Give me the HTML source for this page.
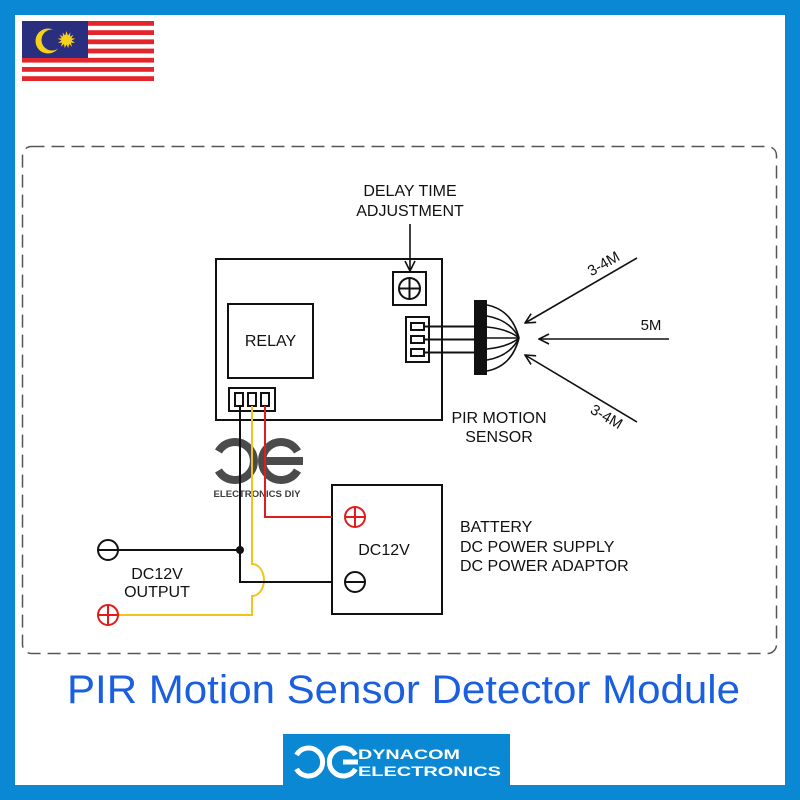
<!DOCTYPE html>
<html><head><meta charset="utf-8"><style>
html,body{margin:0;padding:0;background:#fff;}
svg{display:block;}
text{font-family:"Liberation Sans",Arial,sans-serif;}
</style></head><body>
<svg width="800" height="800" viewBox="0 0 800 800" xmlns="http://www.w3.org/2000/svg">
<defs>
<marker id="ah" viewBox="0 0 12 12" refX="11" refY="6" markerWidth="12" markerHeight="12" markerUnits="userSpaceOnUse" orient="auto">
<path d="M1,1 L11,6 L1,11" fill="none" stroke="#111" stroke-width="1.6"/>
</marker>
</defs>
<rect x="0" y="0" width="800" height="800" fill="#0a88d4"/>
<rect x="15" y="15" width="770" height="770" fill="#fff"/>

<!-- Flag -->
<g>
<rect x="22" y="21" width="132" height="60" fill="#fff"/>
<rect x="22" y="21" width="132" height="4.8" fill="#e3262b"/>
<rect x="22" y="30.2" width="132" height="4.8" fill="#e3262b"/>
<rect x="22" y="39.4" width="132" height="4.8" fill="#e3262b"/>
<rect x="22" y="48.6" width="132" height="4.8" fill="#e3262b"/>
<rect x="22" y="57.8" width="132" height="4.8" fill="#e3262b"/>
<rect x="22" y="67" width="132" height="4.8" fill="#e3262b"/>
<rect x="22" y="76.2" width="132" height="4.8" fill="#e3262b"/>
<rect x="22" y="21" width="66" height="37" fill="#2a2e7e"/>
<circle cx="48" cy="41" r="12.5" fill="#f7d117"/>
<circle cx="52" cy="40" r="10.5" fill="#2a2e7e"/>
<polygon fill="#f7d117" points="66.5,31 67.9,35.6 70.4,32.4 69.9,36.6 73.5,34.8 71.3,38.2 75.4,38.6 71.6,40.4 75.0,43.0 70.9,42.6 72.1,46.7 69.1,43.9 68.2,48.1 66.5,44.3 64.8,48.1 63.9,43.9 60.9,46.7 62.1,42.6 58.0,43.0 61.4,40.4 57.6,38.6 61.7,38.2 59.5,34.8 63.1,36.6 62.6,32.4 65.1,35.6"/>
<circle cx="66.5" cy="40" r="5" fill="#f7d117"/>
</g>

<!-- Dashed frame -->
<rect x="22.5" y="146.5" width="754" height="507" rx="9" ry="9" fill="none" stroke="#555" stroke-width="1.5" stroke-dasharray="13 7"/>

<!-- Watermark logo -->
<g fill="none" stroke="#3c3c3c" stroke-width="8" opacity="0.92">
<path d="M218.5,451.5 A19,19 0 1 1 218.5,470.5"/>
<path d="M297.5,451.5 A19,19 0 1 0 297.5,470.5"/>
<line x1="264" y1="461" x2="303" y2="461"/>
</g>
<text x="257" y="497" font-size="9.5" font-weight="bold" fill="#3c3c3c" text-anchor="middle" textLength="87" lengthAdjust="spacingAndGlyphs">ELECTRONICS DIY</text>

<!-- Main board -->
<g fill="none" stroke="#111" stroke-width="2">
<rect x="216" y="259" width="226" height="161"/>
<rect x="228" y="304" width="85" height="74"/>
<rect x="393" y="272" width="33" height="33"/>
<circle cx="409.5" cy="288.5" r="10.5"/>
<line x1="399" y1="288.5" x2="420" y2="288.5"/>
<line x1="409.5" y1="278" x2="409.5" y2="299"/>
<rect x="406" y="317" width="23" height="45"/>
<rect x="411" y="323" width="13" height="7"/>
<rect x="411" y="336" width="13" height="7"/>
<rect x="411" y="349" width="13" height="7"/>
<rect x="229" y="388" width="46" height="23"/>
<rect x="235" y="393" width="8" height="13"/>
<rect x="248" y="393" width="8" height="13"/>
<rect x="261" y="393" width="8" height="13"/>
</g>
<text x="270.5" y="346" font-size="16" fill="#111" text-anchor="middle">RELAY</text>

<!-- sensor lines -->
<g stroke="#111" stroke-width="2" fill="none">
<line x1="424" y1="326.5" x2="475" y2="326.5"/>
<line x1="424" y1="339.5" x2="475" y2="339.5"/>
<line x1="424" y1="352.5" x2="475" y2="352.5"/>
</g>
<rect x="474" y="300" width="13" height="75" fill="#111"/>
<g stroke="#111" stroke-width="1.6" fill="none">
<path d="M487,305 Q512,310 519,338"/>
<path d="M487,316 Q510,320 519,338"/>
<path d="M487,327 Q508,329 519,338"/>
<path d="M487,338 L519,338"/>
<path d="M487,349 Q508,347 519,338"/>
<path d="M487,360 Q510,356 519,338"/>
<path d="M487,371 Q512,366 519,338"/>
</g>

<!-- arrows -->
<g stroke="#111" stroke-width="1.6" fill="none" marker-end="url(#ah)">
<line x1="410" y1="224" x2="410" y2="271"/>
<line x1="637" y1="258" x2="525" y2="323"/>
<line x1="669" y1="339" x2="539" y2="339"/>
<line x1="637" y1="422" x2="525" y2="355"/>
</g>

<!-- labels -->
<g font-size="16" fill="#111" text-anchor="middle">
<text x="410" y="196">DELAY TIME</text>
<text x="410" y="216">ADJUSTMENT</text>
<text x="499" y="423">PIR MOTION</text>
<text x="499" y="442">SENSOR</text>
<text x="384" y="555">DC12V</text>
<text x="157" y="579">DC12V</text>
<text x="157" y="597">OUTPUT</text>
</g>
<text x="651" y="330" font-size="15" fill="#111" text-anchor="middle">5M</text>
<text x="0" y="0" font-size="15" fill="#111" text-anchor="middle" transform="translate(606,268) rotate(-30)">3-4M</text>
<text x="0" y="0" font-size="15" fill="#111" text-anchor="middle" transform="translate(604,421) rotate(30)">3-4M</text>
<g font-size="16" fill="#111">
<text x="460" y="532">BATTERY</text>
<text x="460" y="552">DC POWER SUPPLY</text>
<text x="460" y="571">DC POWER ADAPTOR</text>
</g>

<!-- battery box -->
<rect x="332" y="485" width="110" height="129" fill="none" stroke="#111" stroke-width="2"/>

<!-- wires -->
<g fill="none" stroke-width="2">
<path d="M265,406 V517 H332" stroke="#e21b1b"/>
<path d="M252,406 V564 A12,16 0 0 1 252,596 V615 H118" stroke="#f2c318"/>
<path d="M240,406 V582 H332" stroke="#111"/>
<path d="M118,550 H240" stroke="#111"/>
</g>
<circle cx="240" cy="550" r="4" fill="#111"/>

<!-- terminals -->
<g fill="none" stroke-width="2">
<circle cx="108" cy="550" r="10" stroke="#111"/>
<line x1="98" y1="550" x2="118" y2="550" stroke="#111"/>
<circle cx="108" cy="615" r="10" stroke="#e21b1b"/>
<line x1="98" y1="615" x2="118" y2="615" stroke="#e21b1b"/>
<line x1="108" y1="605" x2="108" y2="625" stroke="#e21b1b"/>
<circle cx="355" cy="517" r="10" stroke="#e21b1b"/>
<line x1="345" y1="517" x2="365" y2="517" stroke="#e21b1b"/>
<line x1="355" y1="507" x2="355" y2="527" stroke="#e21b1b"/>
<circle cx="355" cy="582" r="10" stroke="#111"/>
<line x1="345" y1="582" x2="365" y2="582" stroke="#111"/>
</g>

<!-- Title -->
<text x="67" y="703" font-size="40" fill="#1a5fe0" textLength="673" lengthAdjust="spacingAndGlyphs">PIR Motion Sensor Detector Module</text>

<!-- Bottom logo -->
<rect x="283" y="734" width="227" height="52" fill="#0a88d4"/>
<g fill="none" stroke="#fff" stroke-width="5">
<path d="M296.5,755 A14,14 0 1 1 296.5,769"/>
<path d="M355.5,755 A14,14 0 1 0 355.5,769"/>
<line x1="343" y1="762" x2="358" y2="762"/>
</g>
<text x="358" y="759" font-size="14" font-weight="bold" fill="#fff" textLength="102" lengthAdjust="spacingAndGlyphs">DYNACOM</text>
<text x="358" y="776" font-size="14" font-weight="bold" fill="#fff" textLength="143" lengthAdjust="spacingAndGlyphs">ELECTRONICS</text>
</svg>
</body></html>
